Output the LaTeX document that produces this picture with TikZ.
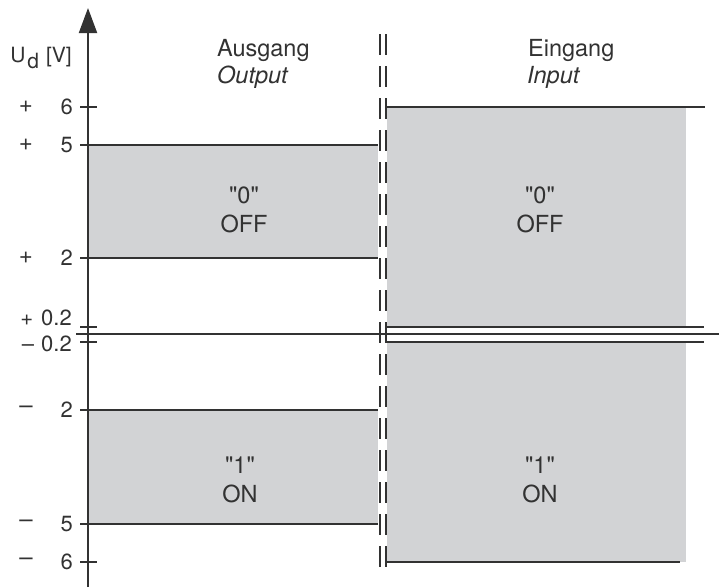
\documentclass[tikz,border=0pt]{standalone}
\usepackage{fontspec}
\setmainfont{TeX Gyre Heros}[Ligatures=TeXOff]
\usetikzlibrary{arrows.meta}
\definecolor{boxgray}{RGB}{210,211,213}
\definecolor{ink}{RGB}{50,50,50}
\tikzset{
  zone/.style={fill=boxgray},
  lvl/.style={draw=ink, line width=2pt},
  fine/.style={draw=ink, line width=1.4pt},
  zero/.style={draw=ink, line width=2.6pt},
  tck/.style={draw=ink, line width=1.3pt},
  sep/.style={draw=ink, line width=1.3pt, dash pattern=on 21pt off 11pt},
  axis/.style={draw=ink, line width=2pt, -{Triangle[length=25pt, width=18pt]}},
  lbl/.style={text=ink, inner sep=0pt, font=\fontsize{23.5}{28}\selectfont},
  num/.style={text=ink, inner sep=0pt, font=\fontsize{22}{26}\selectfont},
  sgn/.style={text=ink, inner sep=0pt, font=\fontsize{24}{28}\selectfont},
}
\begin{document}
\begin{tikzpicture}[x=1pt, y=-1pt]
  \useasboundingbox (0,0) rectangle (719,587);
  \fill[zone] (88,145) rectangle (378,258);
  \fill[zone] (88,410) rectangle (378,524);
  \fill[zone] (387,107) rectangle (686,327);
  \fill[zone] (387,342) rectangle (686,562);
  \draw[lvl] (88,145) -- (378,145);
  \draw[lvl] (88,258) -- (378,258);
  \draw[lvl] (88,410) -- (378,410);
  \draw[lvl] (88,524) -- (378,524);
  \draw[lvl] (387,107) -- (705,107);
  \draw[lvl] (387,562) -- (680,562);
  \draw[fine] (387,327) -- (704,327);
  \draw[fine] (387,342) -- (704,342);
  \draw[zero] (76,334) -- (719,334);
  \draw[sep] (380,34) -- (380,570);
  \draw[sep] (386,34) -- (386,570);
  \draw[tck] (80,327) -- (97,327);
  \draw[tck] (80,342) -- (97,342);
  \foreach \y/\s/\v [count=\i] in {107/+/6, 145/+/5, 258/+/2, 410/–/2, 524/–/5, 562/–/6} {
    \draw[tck] (80,\y) -- (97,\y);
    \node[sgn] (sg\i) at (26,\y) {\s};
    \node[num, anchor=east] (vl\i) at (73,\y) {\v};
  }
  \node[num, anchor=base east] (pz) at (72,325) {+\hspace{8pt}0.2};
  \node[num, anchor=base east] (mz) at (72,351) {–\hspace{7pt}0.2};
  \draw[axis] (88,587) -- (88,8);
  \node[num, anchor=base east, font=\fontsize{21}{25}\selectfont] (ud) at (72,62)
    {U\hspace{2pt}\raisebox{-6pt}{d}\hspace{7pt}[V]};
  \node[lbl, anchor=base west] (aus) at (217,56) {Ausgang};
  \node[lbl, anchor=base west] (out) at (217,83) {\itshape Output};
  \node[lbl, anchor=base west] (ein) at (528,56) {Eingang};
  \node[lbl, anchor=base west] (inp) at (527,83) {\itshape Input};
  \node[lbl, anchor=base] (zl) at (244,203) {"0"};
  \node[lbl, anchor=base] (offl) at (244,232) {OFF};
  \node[lbl, anchor=base] (zr) at (540,203) {"0"};
  \node[lbl, anchor=base] (offr) at (540,232) {OFF};
  \node[lbl, anchor=base] (ol) at (240,473) {"1"};
  \node[lbl, anchor=base] (onl) at (240,502) {ON};
  \node[lbl, anchor=base] (or) at (540,473) {"1"};
  \node[lbl, anchor=base] (onr) at (540,502) {ON};
\end{tikzpicture}
\end{document}
